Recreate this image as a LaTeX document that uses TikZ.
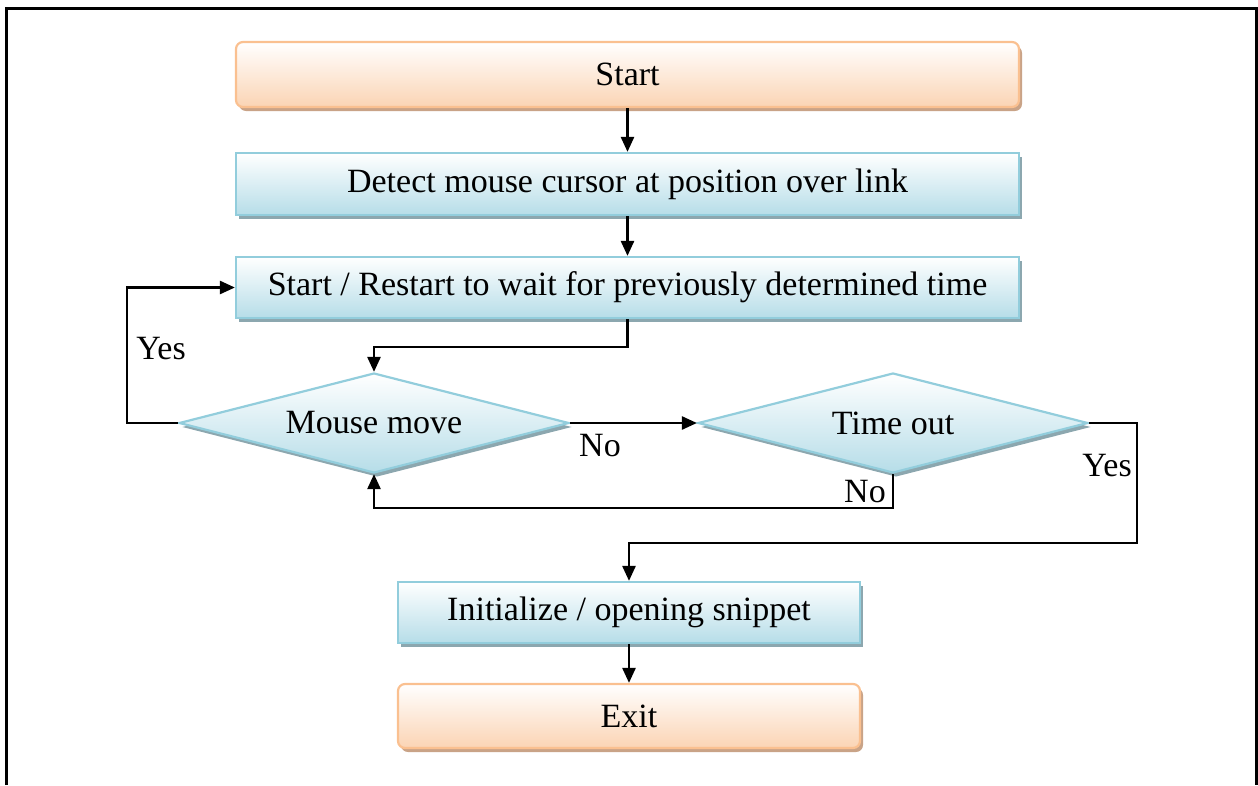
\documentclass[tikz,border=0pt]{standalone}
\usepackage{fontspec}
\setmainfont{Liberation Serif}
\usetikzlibrary{shapes.geometric,shadows,arrows.meta}
\definecolor{bluebord}{HTML}{92CDDC}
\definecolor{bluefill}{HTML}{B6DDE8}
\definecolor{blueshad}{HTML}{8CA7AF}
\definecolor{peachbord}{HTML}{FAC090}
\definecolor{peachfill}{HTML}{FBD4B4}
\definecolor{peachshad}{HTML}{C9A387}
\tikzset{
  every node/.style={font=\fontsize{34}{39}\selectfont},
  procbox/.style={rectangle, draw=bluebord, line width=2.2pt, top color=white,
    bottom color=bluefill, inner sep=0pt,
    drop shadow={shadow xshift=3pt, shadow yshift=-4pt, fill=blueshad, opacity=1}},
  termbox/.style={rectangle, rounded corners=7pt, draw=peachbord, line width=2.2pt,
    top color=white, bottom color=peachfill, inner sep=0pt,
    drop shadow={shadow xshift=3pt, shadow yshift=-4pt, fill=peachshad, opacity=1}},
  decision/.style={diamond, aspect=3.9, draw=bluebord, line width=2.2pt,
    top color=white, bottom color=bluefill, inner sep=0pt,
    minimum width=390pt, minimum height=100pt,
    drop shadow={shadow xshift=3pt, shadow yshift=-4pt, fill=blueshad, opacity=1}},
  conn/.style={line width=2.5pt, draw=black},
  arr/.style={conn, -{Triangle[length=15pt,width=13pt]}},
  lbl/.style={inner sep=0pt}
}
\begin{document}
\begin{tikzpicture}[x=1pt, y=-1pt]
\useasboundingbox (0,0) rectangle (1258,785);
% outer frame
\draw[line width=3pt] (6,785) -- (6,8) -- (1256,8) -- (1256,785);

% blocks
\node[termbox, minimum width=783pt, minimum height=65pt] (start) at (627.5,74.5) {Start};
\node[procbox, minimum width=783pt, minimum height=62pt] (detect) at (627.5,184) {Detect mouse cursor at position over link};
\node[procbox, minimum width=783pt, minimum height=61pt] (wait) at (627.5,287.5) {Start / Restart to wait for previously determined time};
\node[decision] (mm) at (374,423) {Mouse move};
\node[decision] (to) at (893,423) {Time out};
\node[procbox, minimum width=462pt, minimum height=61pt] (init) at (629,612.5) {Initialize / opening snippet};
\node[termbox, minimum width=462pt, minimum height=64pt] (exit) at (629,716) {Exit};

% connectors
\draw[arr] (start.south) -- (detect.north);
\draw[arr] (detect.south) -- (wait.north);
\draw[arr] (wait.south) -- ++(0,28) -| (mm.north);
\draw[arr] (mm.west) -- ++(-51,0) |- (wait.west);
\draw[arr] (mm.east) -- (to.west);
\draw[arr] (to.south) -- ++(0,34) -| (mm.south);
\coordinate (yesturn) at (1137,543);
\draw[arr] (to.east) -| (yesturn) -| (init.north);
\draw[arr] (init.south) -- (exit.north);

% branch labels
\node[lbl] (ly1) at (161,349) {Yes};
\node[lbl] (ln1) at (600,446) {No};
\node[lbl] (ln2) at (865,492) {No};
\node[lbl] (ly2) at (1107,466) {Yes};
\end{tikzpicture}
\end{document}
